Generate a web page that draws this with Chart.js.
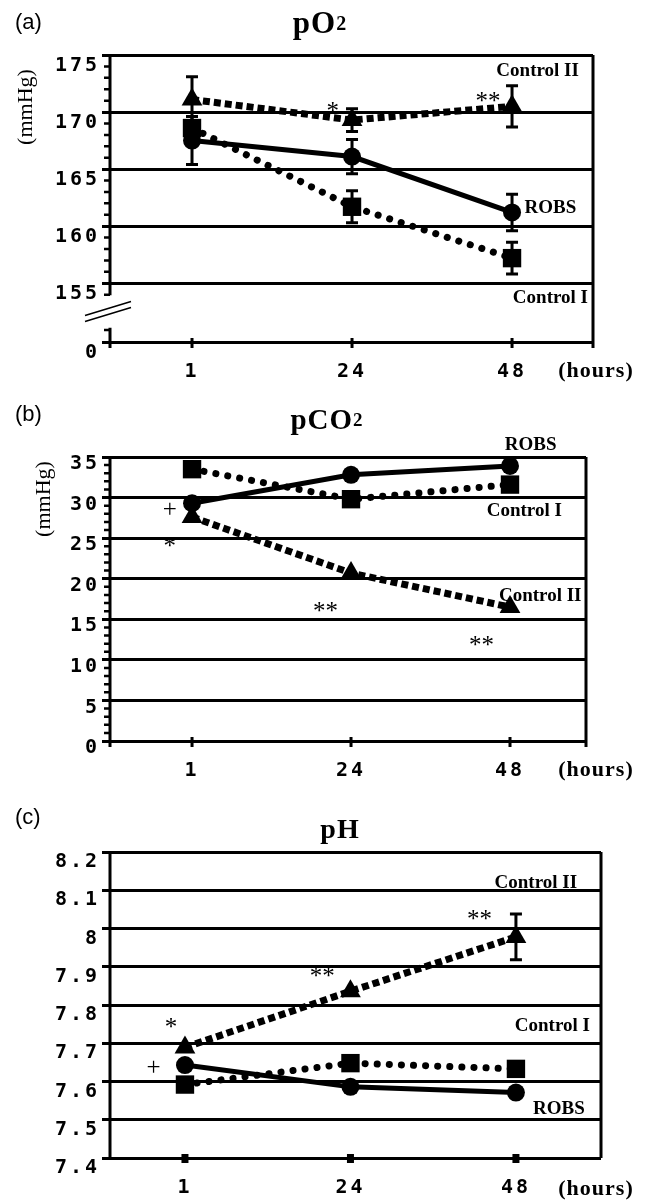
<!DOCTYPE html>
<html>
<head>
<meta charset="utf-8">
<script src="https://cdn.jsdelivr.net/npm/chart.js@4"></script>
<style>
  body { margin: 0; background: #fff; }
  #wrap { position: relative; width: 650px; height: 1200px; }
  canvas { position: absolute; left: 0; }
</style>
</head>
<body>
<div id="wrap">
  <canvas id="chartA" width="650" height="390" style="top:0px"></canvas>
  <canvas id="chartB" width="650" height="395" style="top:390px"></canvas>
  <canvas id="chartC" width="650" height="415" style="top:785px"></canvas>
</div>
<script>
const hours = ['1', '24', '48'];

// (a) pO2 in mmHg, axis broken below 155 (bottom tick reads "0")
const pO2Robs = [167.5, 166.1, 161.2];
const pO2RobsSd = [2.1, 1.5, 1.6];
const pO2Ctrl1 = [168.6, 161.7, 157.2];
const pO2Ctrl1Sd = [0, 1.4, 1.4];
const pO2Ctrl2 = [171.1, 169.3, 170.5];
const pO2Ctrl2Sd = [2.0, 1.0, 1.8];
const pO2Ticks = [155, 160, 165, 170, 175];

// (b) pCO2 in mmHg
const pCO2Robs = [29.3, 32.8, 33.9];
const pCO2Ctrl1 = [33.5, 29.8, 31.6];
const pCO2Ctrl2 = [27.6, 20.7, 16.5];
const pCO2Ticks = [0, 5, 10, 15, 20, 25, 30, 35];

// (c) pH
const pHRobs = [7.643, 7.586, 7.571];
const pHCtrl1 = [7.592, 7.648, 7.633];
const pHCtrl2 = [7.689, 7.836, 7.978];
const pHCtrl2Sd = [0, 0, 0.06];
const pHTicks = [7.4, 7.5, 7.6, 7.7, 7.8, 7.9, 8.0, 8.1, 8.2];

const monoFont = { family: "'DejaVu Sans Mono', 'Liberation Mono', monospace", size: 20, weight: 'bold' };
const serif = "'Liberation Serif', 'DejaVu Serif', serif";

function lineSet(values, kind) {
  const base = {
    data: values.map((v, i) => ({ x: i, y: v })),
    borderColor: '#000',
    backgroundColor: '#000',
    pointBackgroundColor: '#000',
    pointBorderWidth: 0,
    pointHoverRadius: 0,
    fill: false,
    tension: 0
  };
  if (kind === 'robs') return Object.assign(base, { borderWidth: 5, pointStyle: 'circle', pointRadius: 9 });
  if (kind === 'c1') return Object.assign(base, { borderWidth: 7, borderDash: [0.1, 12], borderCapStyle: 'round', pointStyle: 'rect', pointRadius: 13 });
  return Object.assign(base, { borderWidth: 7, borderDash: [7, 4], pointStyle: 'triangle', pointRadius: 12 });
}

// draws text centred on its ink box
function text(ctx, str, cx, cy, font, align) {
  ctx.font = font;
  ctx.textAlign = align || 'center';
  ctx.textBaseline = 'alphabetic';
  const m = ctx.measureText(str);
  ctx.fillText(str, cx, cy + (m.actualBoundingBoxAscent - m.actualBoundingBoxDescent) / 2);
}

const decor = {
  id: 'decor',
  beforeDraw(chart) {
    chart.ctx.letterSpacing = '3px';
  },
  beforeDatasetsDraw(chart, args, o) {
    const ctx = chart.ctx, a = chart.chartArea, xs = chart.scales.x, ys = chart.scales.y;
    ctx.letterSpacing = '0px';
    ctx.save();
    ctx.strokeStyle = '#000';
    ctx.fillStyle = '#000';
    ctx.lineWidth = 3;
    ctx.lineCap = 'butt';
    const bottom = a.bottom + o.extend;
    // y axis, with an optional break
    ctx.beginPath();
    if (o.breakAt) {
      const b1 = ys.getPixelForValue(o.breakAt[1]), b0 = ys.getPixelForValue(o.breakAt[0]);
      ctx.moveTo(a.left, a.top); ctx.lineTo(a.left, b1);
      ctx.moveTo(a.left, b0); ctx.lineTo(a.left, bottom);
    } else {
      ctx.moveTo(a.left, a.top); ctx.lineTo(a.left, bottom);
    }
    // right border
    ctx.moveTo(a.right, a.top); ctx.lineTo(a.right, bottom);
    ctx.stroke();
    if (o.breakAt) {
      const cy = ys.getPixelForValue((o.breakAt[0] + o.breakAt[1]) / 2), cx = a.left - 2;
      ctx.lineWidth = 1.5;
      ctx.beginPath();
      [-3, 3].forEach(d => {
        ctx.moveTo(cx - 23, cy + 7 + d); ctx.lineTo(cx + 23, cy - 7 + d);
      });
      ctx.stroke();
    }
    // minor ticks on y
    if (o.minor) {
      ctx.lineWidth = 2.5;
      ctx.beginPath();
      o.minor.forEach(v => {
        const py = ys.getPixelForValue(v);
        ctx.moveTo(a.left - 6, py); ctx.lineTo(a.left, py);
      });
      ctx.stroke();
    }
    // x ticks
    hours.forEach((h, i) => {
      const px = xs.getPixelForValue(i);
      if (o.squareTicks) {
        ctx.fillRect(px - 3.5, a.bottom - 4, 7, 9);
      } else {
        ctx.fillRect(px - 1.5, a.bottom - 4, 3, 10);
      }
    });
    ctx.restore();
  },
  afterDatasetsDraw(chart, args, o) {
    const ctx = chart.ctx, xs = chart.scales.x, ys = chart.scales.y;
    ctx.save();
    ctx.strokeStyle = '#000';
    ctx.lineWidth = 3;
    (o.errors || []).forEach(e => {
      e.values.forEach((v, i) => {
        if (!e.sd[i]) return;
        const px = xs.getPixelForValue(i);
        const hi = ys.getPixelForValue(v + e.sd[i]), lo = ys.getPixelForValue(v - e.sd[i]);
        ctx.beginPath();
        ctx.moveTo(px, hi); ctx.lineTo(px, lo);
        ctx.moveTo(px - 6, hi); ctx.lineTo(px + 6, hi);
        ctx.moveTo(px - 6, lo); ctx.lineTo(px + 6, lo);
        ctx.stroke();
      });
    });
    ctx.restore();
  },
  afterDraw(chart, args, o) {
    const ctx = chart.ctx, a = chart.chartArea, xs = chart.scales.x, ys = chart.scales.y;
    ctx.save();
    ctx.fillStyle = '#000';
    ctx.letterSpacing = '0px';
    text(ctx, o.letter, 15, o.letterY, "22px 'Liberation Sans', Arial, sans-serif", 'left');
    // title with a small raised "2"
    ctx.letterSpacing = '1px';
    ctx.font = 'bold ' + o.titleSize + 'px ' + serif;
    const w1 = ctx.measureText(o.title).width;
    const small = 'bold ' + Math.round(o.titleSize * 0.66) + 'px ' + serif;
    ctx.font = small;
    const w2 = o.titleSub ? ctx.measureText(o.titleSub).width : 0;
    const x0 = o.titleX - (w1 + w2) / 2;
    ctx.textAlign = 'left';
    ctx.textBaseline = 'alphabetic';
    ctx.font = 'bold ' + o.titleSize + 'px ' + serif;
    ctx.fillText(o.title, x0, o.titleY);
    if (o.titleSub) {
      ctx.font = small;
      ctx.fillText(o.titleSub, x0 + w1, o.titleY - Math.round(o.titleSize * 0.1));
    }
    ctx.letterSpacing = '0px';
    if (o.yTitle) {
      ctx.save();
      ctx.translate(o.yTitle[0], o.yTitle[1]);
      ctx.rotate(-Math.PI / 2);
      text(ctx, '(mmHg)', 0, 0, '22px ' + serif);
      ctx.restore();
    }
    ctx.letterSpacing = '1px';
    text(ctx, '(hours)', 596, a.bottom + o.hoursDy, 'bold 22px ' + serif);
    ctx.letterSpacing = '0px';
    o.notes.forEach(n => {
      const font = n.bold ? 'bold 19px ' + serif : '25px ' + serif;
      text(ctx, n.t, xs.getPixelForValue(n.x), ys.getPixelForValue(n.y), font);
    });
    ctx.restore();
  }
};

function makePanel(id, cfg) {
  return new Chart(document.getElementById(id), {
    type: 'line',
    data: {
      datasets: [
        lineSet(cfg.ctrl2, 'c2'),
        lineSet(cfg.ctrl1, 'c1'),
        lineSet(cfg.robs, 'robs')
      ]
    },
    options: {
      responsive: false,
      animation: false,
      events: [],
      layout: { padding: { top: cfg.top, right: cfg.right, left: 0, bottom: 0 } },
      scales: {
        x: {
          type: 'linear',
          min: cfg.xMin,
          max: cfg.xMax,
          afterBuildTicks: s => { s.ticks = hours.map((h, i) => ({ value: i })); },
          afterFit: s => { s.height = cfg.xHeight; },
          grid: { display: false, drawTicks: false },
          border: { display: false },
          ticks: { font: monoFont, color: '#000', padding: 18, autoSkip: false, maxRotation: 0, callback: v => hours[v] }
        },
        y: {
          type: 'linear',
          min: cfg.yMin,
          max: cfg.yMax,
          afterBuildTicks: s => { s.ticks = cfg.ticks.map(v => ({ value: v })); },
          afterFit: s => { s.width = 110; },
          grid: { color: '#000', lineWidth: 3, tickLength: 8, drawTicks: true },
          border: { display: false },
          ticks: { font: monoFont, color: '#000', padding: 2, labelOffset: cfg.labelOffset, autoSkip: false, callback: cfg.fmt }
        }
      },
      plugins: {
        legend: { display: false },
        tooltip: { enabled: false },
        decor: cfg.decor
      }
    },
    plugins: [decor]
  });
}

const minorA = [];
for (let v = 156; v < 175; v++) if (v % 5) minorA.push(v);
minorA.push(154, 150.9);
const minorB = [];
for (let v = 1; v < 35; v++) if (v % 5) minorB.push(v);

makePanel('chartA', {
  robs: pO2Robs, ctrl1: pO2Ctrl1, ctrl2: pO2Ctrl2,
  xMin: -0.5125, xMax: 2.506, yMin: 149.85, yMax: 175,
  ticks: [149.85].concat(pO2Ticks),
  fmt: v => (v < 150 ? '0' : String(v)),
  top: 55, right: 57, xHeight: 48, labelOffset: 11,
  decor: {
    letter: '(a)', letterY: 23, title: 'pO', titleSub: '2', titleSize: 31, titleX: 320, titleY: 33,
    yTitle: [27, 107], hoursDy: 30, extend: 6, breakAt: [151.1, 153.95], minor: minorA,
    errors: [
      { values: pO2Robs, sd: pO2RobsSd },
      { values: pO2Ctrl1, sd: pO2Ctrl1Sd },
      { values: pO2Ctrl2, sd: pO2Ctrl2Sd }
    ],
    notes: [
      { t: '*', x: 0.88, y: 170.45 },
      { t: '**', x: 1.85, y: 171.3 },
      { t: 'Control II', x: 2.16, y: 173.7, bold: true },
      { t: 'ROBS', x: 2.24, y: 161.75, bold: true },
      { t: 'Control I', x: 2.24, y: 153.8, bold: true }
    ]
  }
});

makePanel('chartB', {
  robs: pCO2Robs, ctrl1: pCO2Ctrl1, ctrl2: pCO2Ctrl2,
  xMin: -0.516, xMax: 2.478, yMin: 0, yMax: 35,
  ticks: pCO2Ticks,
  fmt: v => String(v),
  top: 67, right: 64, xHeight: 44, labelOffset: 7,
  decor: {
    letter: '(b)', letterY: 25, title: 'pCO', titleSub: '2', titleSize: 29, titleX: 327, titleY: 39,
    yTitle: [45, 109], hoursDy: 30, extend: 6, minor: minorB,
    errors: [],
    notes: [
      { t: '+', x: -0.14, y: 28.7 },
      { t: '*', x: -0.14, y: 24.5 },
      { t: '**', x: 0.84, y: 16.5 },
      { t: '**', x: 1.82, y: 12.3 },
      { t: 'ROBS', x: 2.13, y: 36.7, bold: true },
      { t: 'Control I', x: 2.09, y: 28.5, bold: true },
      { t: 'Control II', x: 2.19, y: 18.0, bold: true }
    ]
  }
});

makePanel('chartC', {
  robs: pHRobs, ctrl1: pHCtrl1, ctrl2: pHCtrl2,
  xMin: -0.453, xMax: 2.514, yMin: 7.4, yMax: 8.2,
  ticks: pHTicks,
  fmt: v => String(Number(v.toFixed(1))),
  top: 67, right: 49, xHeight: 42, labelOffset: 10,
  decor: {
    letter: '(c)', letterY: 33, title: 'pH', titleSub: '', titleSize: 28, titleX: 340, titleY: 53,
    hoursDy: 32, extend: 0, squareTicks: true,
    errors: [{ values: pHCtrl2, sd: pHCtrl2Sd }],
    notes: [
      { t: '**', x: 1.78, y: 8.035 },
      { t: '**', x: 0.83, y: 7.886 },
      { t: '*', x: -0.085, y: 7.753 },
      { t: '+', x: -0.19, y: 7.64 },
      { t: 'Control II', x: 2.12, y: 8.122, bold: true },
      { t: 'Control I', x: 2.22, y: 7.748, bold: true },
      { t: 'ROBS', x: 2.26, y: 7.533, bold: true }
    ]
  }
});
</script>
</body>
</html>
